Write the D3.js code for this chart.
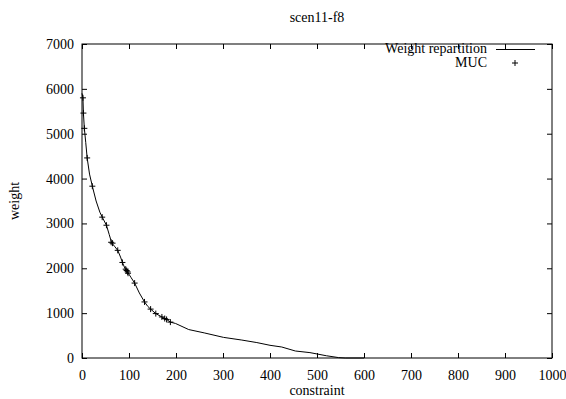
<!DOCTYPE html>
<html>
<head>
<meta charset="utf-8">
<style>
  body { margin: 0; background: #fff; }
  svg text { font-family: "Liberation Serif", "DejaVu Serif", serif; font-size: 14px; fill: #000; }
</style>
</head>
<body>
<svg width="566" height="399"></svg>
<script src="https://d3js.org/d3.v7.min.js"></script>
<script>
// weight repartition curve (constraint, weight)
var curveX = [0, 2, 3, 5, 8, 11, 16, 22, 30, 38, 44, 52, 58, 63, 70, 76, 82, 86, 93, 98, 104, 112, 122, 133, 140, 146, 157, 170, 180, 188, 199, 227, 260, 301, 340, 372, 400, 425, 454, 485, 500, 520, 546, 560, 600];
var curveW = [5900, 5800, 5460, 5120, 4800, 4460, 4100, 3830, 3500, 3250, 3120, 2960, 2750, 2570, 2480, 2400, 2250, 2130, 1960, 1900, 1800, 1670, 1450, 1250, 1150, 1090, 990, 915, 860, 800, 770, 634, 560, 460, 400, 344, 283, 245, 156, 120, 90, 50, 9, 0, 0];

// MUC points
var mucX = [2, 3, 5, 11, 22, 43, 52, 62, 65, 76, 86, 93, 95, 97, 98, 112, 133, 146, 157, 170, 176, 180, 188];
var mucW = [5800, 5460, 5120, 4460, 3830, 3140, 2960, 2580, 2560, 2400, 2130, 1980, 1950, 1920, 1890, 1670, 1250, 1090, 990, 915, 880, 860, 800];

var xTicks = [0, 100, 200, 300, 400, 500, 600, 700, 800, 900, 1000];
var yTicks = [0, 1000, 2000, 3000, 4000, 5000, 6000, 7000];

var title = "scen11-f8";
var xLabel = "constraint";
var yLabel = "weight";
var legendLine = "Weight repartition";
var legendPts = "MUC";

var svg = d3.select("svg");
var m = { left: 82, right: 552, top: 44, bottom: 358 };

var x = d3.scaleLinear().domain([0, 1000]).range([m.left, m.right]);
var y = d3.scaleLinear().domain([0, 7000]).range([m.bottom, m.top]);

var tl = 5;
var fmt = d3.format("d");
// bottom axis (ticks inward)
svg.append("g")
  .attr("transform", "translate(0," + m.bottom + ")")
  .call(d3.axisBottom(x).tickValues(xTicks).tickFormat(fmt).tickSize(-tl).tickPadding(12).tickSizeOuter(0))
  .call(function(g){ g.select(".domain").remove(); });
// top axis
svg.append("g")
  .attr("transform", "translate(0," + m.top + ")")
  .call(d3.axisTop(x).tickValues(xTicks).tickSize(-tl).tickFormat("").tickSizeOuter(0))
  .call(function(g){ g.select(".domain").remove(); });
// left axis
svg.append("g")
  .attr("transform", "translate(" + m.left + ",0)")
  .call(d3.axisLeft(y).tickValues(yTicks).tickFormat(fmt).tickSize(-tl).tickPadding(8).tickSizeOuter(0))
  .call(function(g){ g.select(".domain").remove(); });
// right axis
svg.append("g")
  .attr("transform", "translate(" + m.right + ",0)")
  .call(d3.axisRight(y).tickValues(yTicks).tickSize(-tl).tickFormat("").tickSizeOuter(0))
  .call(function(g){ g.select(".domain").remove(); });

svg.selectAll(".tick text")
  .attr("font-family", "Liberation Serif, serif")
  .attr("font-size", 14)
  .attr("fill", "#000");
svg.selectAll(".tick line").attr("stroke", "#000");

// frame
svg.append("rect")
  .attr("x", m.left).attr("y", m.top)
  .attr("width", m.right - m.left).attr("height", m.bottom - m.top)
  .attr("fill", "none").attr("stroke", "#000").attr("stroke-width", 1);

// curve
var pts = curveX.map(function(d, i){ return [d, curveW[i]]; });
var line = d3.line().x(function(d){ return x(d[0]); }).y(function(d){ return y(d[1]); });
svg.append("path")
  .datum(pts)
  .attr("fill", "none").attr("stroke", "#000").attr("stroke-width", 1)
  .attr("d", line);

// MUC markers
var ps = 3;
function plus(g, cx, cy){
  g.append("path")
    .attr("d", "M" + (cx - ps) + "," + cy + "H" + (cx + ps) + "M" + cx + "," + (cy - ps) + "V" + (cy + ps))
    .attr("stroke", "#000").attr("stroke-width", 1).attr("fill", "none");
}
var mg = svg.append("g");
mucX.forEach(function(d, i){ plus(mg, x(d), y(mucW[i])); });

// legend
svg.append("text").attr("x", 487).attr("y", 53).attr("text-anchor", "end").text(legendLine);
svg.append("line").attr("x1", 496).attr("x2", 535).attr("y1", 49.5).attr("y2", 49.5)
  .attr("stroke", "#000").attr("stroke-width", 1);
svg.append("text").attr("x", 487).attr("y", 67).attr("text-anchor", "end").text(legendPts);
plus(svg, 515, 63);

// titles
svg.append("text").attr("x", 317).attr("y", 22).attr("text-anchor", "middle").text(title);
svg.append("text").attr("x", 317).attr("y", 395).attr("text-anchor", "middle").text(xLabel);
svg.append("text").attr("transform", "translate(19,201) rotate(-90)").attr("text-anchor", "middle").text(yLabel);
</script>
</body>
</html>
